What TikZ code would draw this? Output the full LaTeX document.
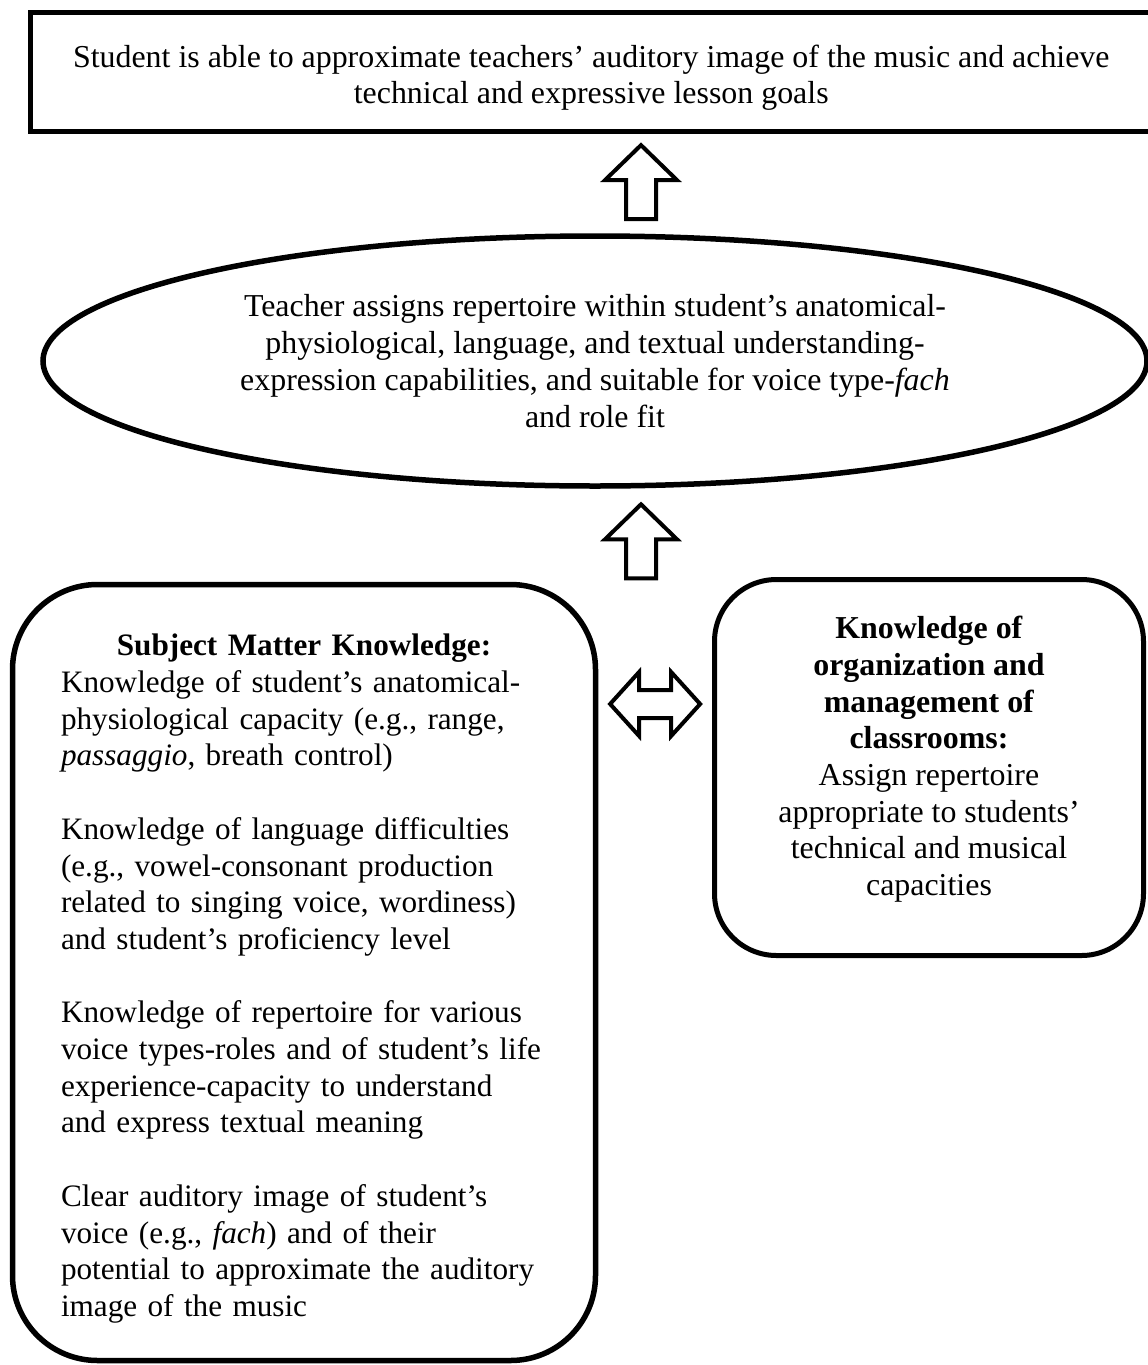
\documentclass[tikz,border=0pt]{standalone}
\usepackage{fontspec}
\setmainfont{Liberation Serif}
\usetikzlibrary{shapes.geometric,calc}
\setlength{\parindent}{0pt}

\begin{document}
\begin{tikzpicture}[x=1pt, y=-1pt,
        every node/.style={font=\fontsize{31.9}{36.7}\selectfont},
        frame/.style={draw, line width=5pt, inner sep=0pt},
        blockline/.style={draw, line width=4pt, fill=white},
        uparrow/.pic={\path[blockline] (-15,37.5) -- (-15,-1.5) -- (-36,-1.5) -- (0,-36.5) -- (36,-1.5) -- (15,-1.5) -- (15,37.5) -- cycle;},
        lrarrow/.pic={\path[blockline] (-45,0) -- (-16,-32) -- (-16,-14) -- (16,-14) -- (16,-32) -- (45,0) -- (16,32) -- (16,14) -- (-16,14) -- (-16,32) -- cycle;}]
        \path[use as bounding box, clip] (0,0) rectangle (1148,1365);

        % goal and repertoire choice
        \node[frame, minimum width=1121.5, minimum height=119, align=center] (goal) at (591.25,72)
            {\rule{0pt}{34pt}Student is able to approximate teachers’ auditory image of the music and achieve\\technical and expressive lesson goals};
        \node[frame, ellipse, line width=5.5pt, minimum width=1104, minimum height=250, align=center,
            font=\fontsize{31.9}{37.2}\selectfont] (ell) at (595,361)
            {Teacher assigns repertoire within student’s anatomical-\\physiological, language, and textual understanding-\\expression capabilities, and suitable for voice type-\textit{fach}\\and role fit};

        % knowledge boxes
        \node[frame, line width=5.5pt, rounded corners=85, minimum width=583, minimum height=776, text width=486, align=left,
            font=\fontsize{31.2}{36.7}\selectfont] (smk) at (304,972.5)
            {{\centering\bfseries\rule{0pt}{34pt}Subject Matter Knowledge:\par}
            Knowledge of student’s anatomical-\\
            physiological capacity (e.g., range,\\
            \textit{passaggio}, breath control)\\[36.7pt]
            Knowledge of language difficulties\\
            (e.g., vowel-consonant production\\
            related to singing voice, wordiness)\\
            and student’s proficiency level\\[36.7pt]
            Knowledge of repertoire for various\\
            voice types-roles and of student’s life\\
            experience-capacity to understand\\
            and express textual meaning\\[36.7pt]
            Clear auditory image of student’s\\
            voice (e.g., \textit{fach}) and of their\\
            potential to approximate the auditory\\
            image of the music};
        \node[frame, rounded corners=62, minimum width=429, minimum height=376, align=center] (org) at (929,767.5)
            {\textbf{Knowledge of}\\\textbf{organization and}\\\textbf{management of}\\\textbf{classrooms:}\\Assign repertoire\\appropriate to students’\\technical and musical\\capacities\rule[-23pt]{0pt}{0pt}};

        % block arrows
        \coordinate (ax) at (641,0);
        \coordinate (ay) at (0,704);
        \path (goal.south) -- (ell.north) coordinate[pos=0.48] (m1);
        \path (ell.south) -- (smk.north) coordinate[pos=0.56] (m2);
        \coordinate (m3) at ($(smk.east)!0.5!(org.west)$);
        \pic at (ax |- m1) {uparrow};
        \pic at (ax |- m2) {uparrow};
        \pic at (m3 |- ay) {lrarrow};
\end{tikzpicture}
\end{document}
